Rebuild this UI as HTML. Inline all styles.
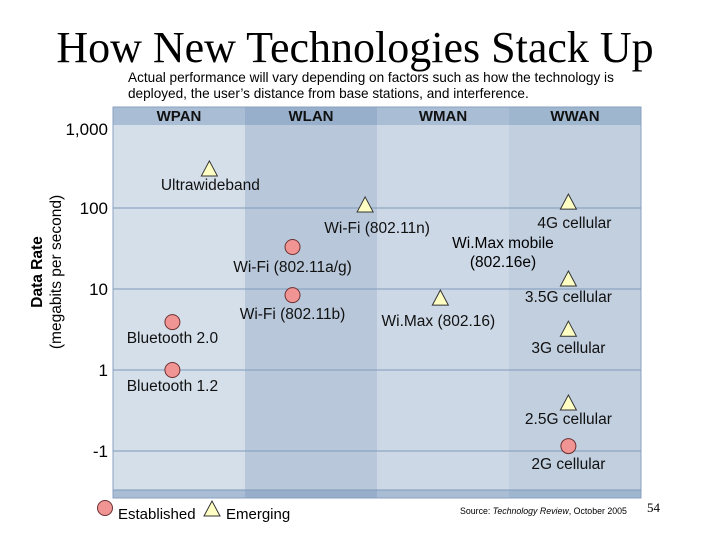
<!DOCTYPE html>
<html><head><meta charset="utf-8"><style>
body{margin:0;width:720px;height:540px;background:#fff;overflow:hidden;font-family:"Liberation Sans",sans-serif;}
.t{position:absolute;white-space:nowrap}
</style></head><body>
<div class="t" style="left:0;width:710px;text-align:center;top:23px;font-family:'Liberation Serif',serif;font-size:44px;line-height:50px;">How New Technologies Stack Up</div>
<div class="t" style="left:128px;top:70px;font-size:13.6px;line-height:16px;">Actual performance will vary depending on factors such as how the technology is<br>deployed, the user’s distance from base stations, and interference.</div>
<svg width="720" height="540" style="position:absolute;left:0;top:0" id="svg"></svg>
<script>
const categories=["WPAN","WLAN","WMAN","WWAN"];
const yTicks=[1000,100,10,1,0.1];
const yTickLabels=["1,000","100","10","1","-1"];
const techNames=["Ultrawideband","Wi-Fi (802.11n)","Wi-Fi (802.11a/g)","Wi-Fi (802.11b)","Bluetooth 2.0","Bluetooth 1.2","4G cellular","Wi.Max (802.16)","3.5G cellular","3G cellular","2.5G cellular","2G cellular"];
const techBand=[0.73,1.91,1.36,1.36,0.45,0.45,3.45,2.48,3.45,3.45,3.45,3.45];
const techRate=[295,106,33,8.4,3.9,1,115,7.5,12.9,3.1,0.38,0.115];
const techType=["E","M","C","C","C","C","M","M","M","M","M","C"];
const labelDx=[1,12,0,0,0,0,6,-2,0,0,0,0];
const labelDy=[20,27,25,24,21,21,25,27,22,23,20,23];
const NS="http://www.w3.org/2000/svg";
const svg=document.getElementById('svg');
const L=113,R=641,T=107,B=498;
const bw=(R-L)/categories.length;
const x=v=>L+bw*v;
const y=v=>370-81*Math.log10(v);
function mk(t,a,p){const e=document.createElementNS(NS,t);for(const k in a)e.setAttribute(k,a[k]);(p||svg).appendChild(e);return e;}
const fills=["#d5dfea","#b8c8da","#ccd8e6","#c1cfdf"];
const hdr=["#a9bdd4","#97afca","#a9bdd4","#9fb6cf"];
categories.forEach((c,i)=>{
 const r=mk('rect',{x:x(i),y:T,width:bw,height:B-T,fill:fills[i]});
 
 
 mk('rect',{x:x(i),y:T,width:bw,height:18,fill:hdr[i]});
 mk('rect',{x:x(i),y:B-8,width:bw,height:8,fill:hdr[i]});
 const t=mk('text',{x:x(i)+bw/2,y:T+14,'text-anchor':'middle','font-size':15,'font-weight':'bold','font-family':'Liberation Sans, sans-serif',fill:'#111'});
 t.textContent=c;
 
 
});
mk('rect',{x:L,y:T,width:R-L,height:B-T,fill:'none',stroke:'#8aa2bf','stroke-width':1});
yTicks.forEach((v,i)=>{
 if(i>0){const g=mk('line',{x1:L,x2:R,y1:y(v),y2:y(v),stroke:'#7f9abb','stroke-width':1});
 
 }
 const t=mk('text',{x:108,y:(i==0?y(v)+2:y(v))+6,'text-anchor':'end','font-size':17,'font-family':'Liberation Sans, sans-serif'});
 t.textContent=yTickLabels[i];
 
 
});
mk('line',{x1:L,x2:R,y1:B-8,y2:B-8,stroke:'#7f9abb'});
const yt=mk('text',{transform:'translate(42,272) rotate(-90)','text-anchor':'middle','font-size':15.5,'font-family':'Liberation Sans, sans-serif'});
yt.innerHTML='<tspan font-weight="bold">Data Rate</tspan>';


const yt2=mk('text',{transform:'translate(61,272) rotate(-90)','text-anchor':'middle','font-size':15.5,'font-family':'Liberation Sans, sans-serif'});
yt2.textContent='(megabits per second)';


function circle(cx,cy){return mk('circle',{cx:cx,cy:cy,r:7.5,fill:'#f19494',stroke:'#6b3030','stroke-width':1});}
function tri(cx,cy){return mk('path',{d:`M${cx},${cy-9}L${cx+8},${cy+6}L${cx-8},${cy+6}Z`,fill:'#ffffc4',stroke:'#333','stroke-width':1});}
techNames.forEach((n,i)=>{
 const cx=x(techBand[i]),cy=y(techRate[i]);
 const m=techType[i]=="C"?circle(cx,cy):tri(cx,cy);
 
 
 const t=mk('text',{x:cx+labelDx[i],y:cy+labelDy[i],'text-anchor':'middle','font-size':15.5,'font-family':'Liberation Sans, sans-serif',fill:'#111'});
 t.textContent=n;
 
 
});
const wm=mk('text',{x:503,y:248,'text-anchor':'middle','font-size':15.5,'font-family':'Liberation Sans, sans-serif'});
wm.innerHTML='<tspan x="503">Wi.Max mobile</tspan><tspan x="503" dy="19">(802.16e)</tspan>';


const lc=circle(105,508);
const lt=tri(212,510);
const l1=mk('text',{x:118,y:519,'font-size':15,'font-family':'Liberation Sans, sans-serif'});l1.textContent='Established';


const l2=mk('text',{x:226,y:519,'font-size':15,'font-family':'Liberation Sans, sans-serif'});l2.textContent='Emerging';


const src=mk('text',{x:460,y:514,'font-size':8.8,'font-family':'Liberation Sans, sans-serif'});
src.innerHTML='Source:  <tspan font-style="italic">Technology Review</tspan>, October 2005';


const pg=mk('text',{x:647,y:512,'font-size':13,'font-family':'Liberation Serif, serif'});pg.textContent='54';


</script>
</body></html>
